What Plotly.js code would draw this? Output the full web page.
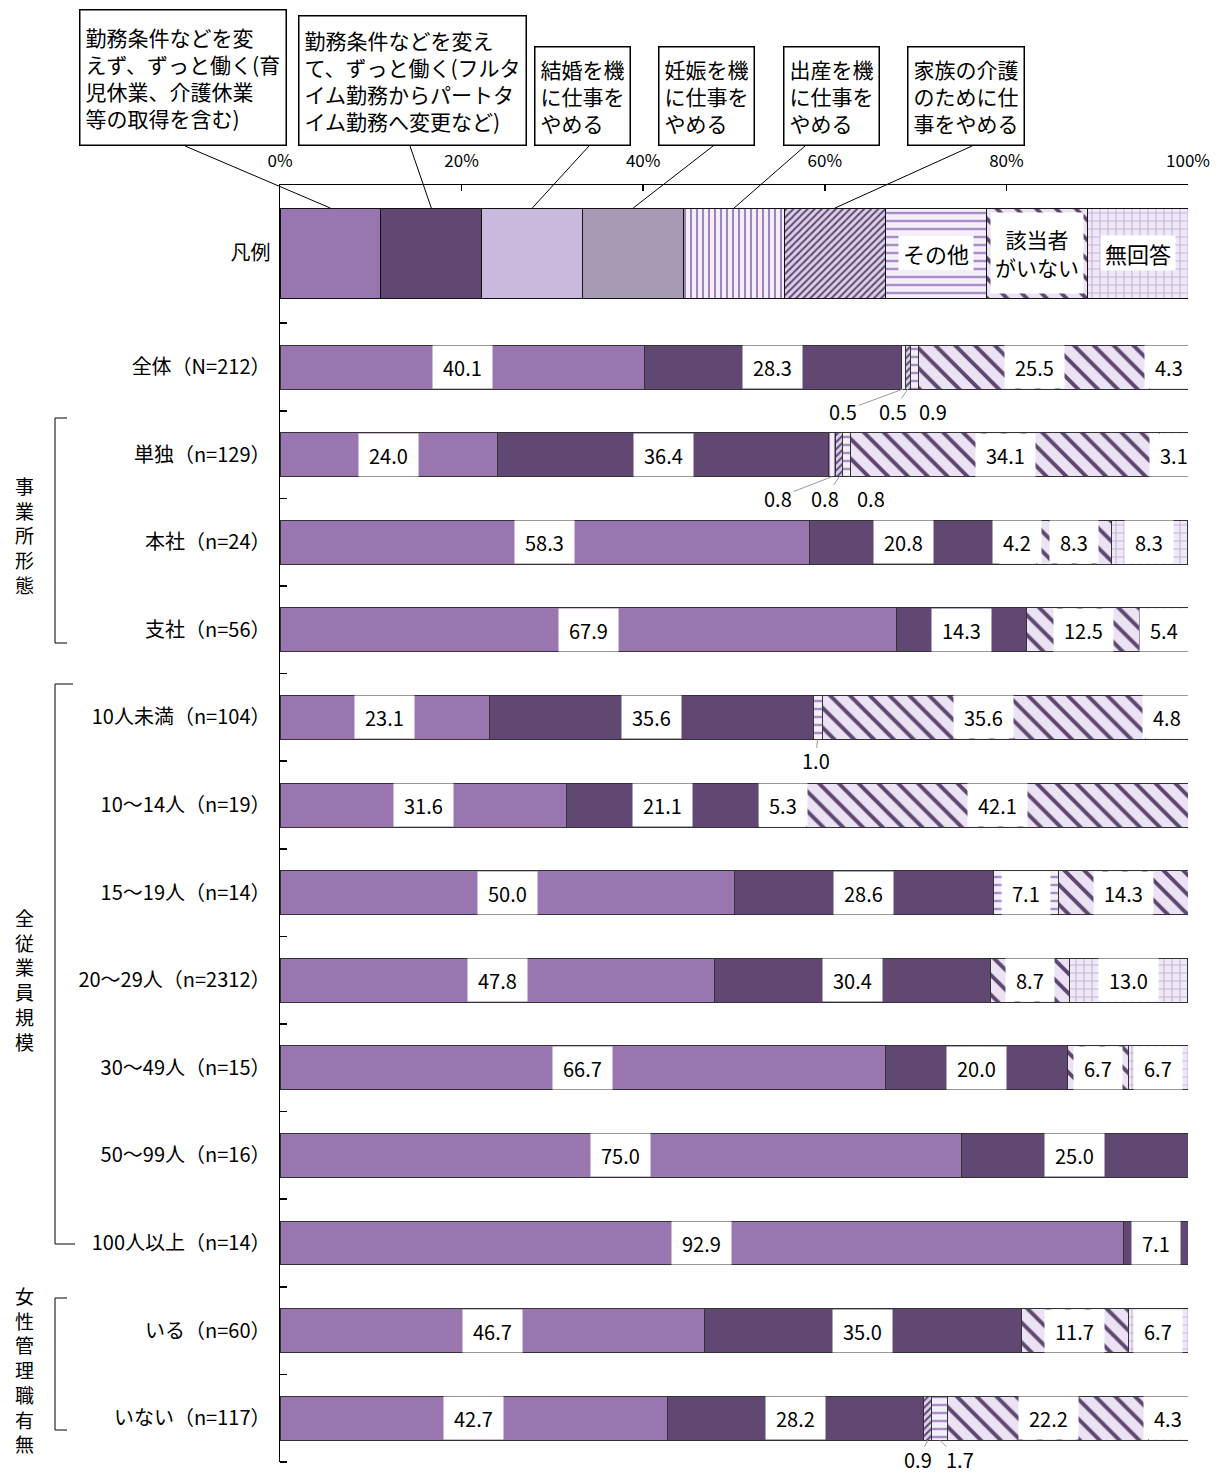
<!DOCTYPE html>
<html>
<head>
<meta charset="utf-8">
<script src="https://cdn.plot.ly/plotly-3.0.1.min.js"></script>
<style>
  html, body { margin: 0; padding: 0; background: #ffffff; }
  #chart { width: 1223px; height: 1474px; }
</style>
</head>
<body>
<div id="chart"></div>
<script>
// ---- data -------------------------------------------------------------
const rowLabels = [
  '全体（N=212）', '単独（n=129）', '本社（n=24）', '支社（n=56）',
  '10人未満（n=104）', '10～14人（n=19）', '15～19人（n=14）', '20～29人（n=2312）',
  '30～49人（n=15）', '50～99人（n=16）', '100人以上（n=14）',
  'いる（n=60）', 'いない（n=117）'
];

const categoryNames = [
  '勤務条件などを変えず、ずっと働く(育児休業、介護休業等の取得を含む)',
  '勤務条件などを変えて、ずっと働く(フルタイム勤務からパートタイム勤務へ変更など)',
  '結婚を機に仕事をやめる',
  '妊娠を機に仕事をやめる',
  '出産を機に仕事をやめる',
  '家族の介護のために仕事をやめる',
  'その他',
  '該当者がいない',
  '無回答'
];

// wrapped texts for the callout boxes above the key bar
const calloutTexts = [
  '勤務条件などを変<br>えず、ずっと働く(育<br>児休業、介護休業<br>等の取得を含む)',
  '勤務条件などを変え<br>て、ずっと働く(フルタ<br>イム勤務からパートタ<br>イム勤務へ変更など)',
  '結婚を機<br>に仕事を<br>やめる',
  '妊娠を機<br>に仕事を<br>やめる',
  '出産を機<br>に仕事を<br>やめる',
  '家族の介護<br>のために仕<br>事をやめる'
];
// labels written inside the last three key segments
const keyInlineTexts = ['その他', '該当者<br>がいない', '無回答'];

const keepSame      = [40.1, 24.0, 58.3, 67.9, 23.1, 31.6, 50.0, 47.8, 66.7, 75.0, 92.9, 46.7, 42.7];
const changeTerms   = [28.3, 36.4, 20.8, 14.3, 35.6, 21.1, 28.6, 30.4, 20.0, 25.0,  7.1, 35.0, 28.2];
const quitMarriage  = [ 0,    0,    0,    0,    0,    0,    0,    0,    0,    0,    0,    0,    0  ];
const quitPregnancy = [ 0,    0,    0,    0,    0,    0,    0,    0,    0,    0,    0,    0,    0  ];
const quitBirth     = [ 0.5,  0.8,  0,    0,    0,    0,    0,    0,    0,    0,    0,    0,    0  ];
const quitCare      = [ 0.5,  0.8,  0,    0,    0,    0,    0,    0,    0,    0,    0,    0,    0.9];
const otherReason   = [ 0.9,  0.8,  4.2,  0,    1.0,  5.3,  7.1,  0,    0,    0,    0,    0,    1.7];
const notApplicable = [25.5, 34.1,  8.3, 12.5, 35.6, 42.1, 14.3,  8.7,  6.7,  0,    0,   11.7, 22.2];
const noAnswer      = [ 4.3,  3.1,  8.3,  5.4,  4.8,  0,    0,   13.0,  6.7,  0,    0,    6.7,  4.3];

const series = [keepSame, changeTerms, quitMarriage, quitPregnancy, quitBirth,
                quitCare, otherReason, notApplicable, noAnswer];

// row groups drawn with a bracket on the far left
const groups = [
  { name: '事業所形態',     top: 418, bottom: 643,  tickTop: 12, tickBottom: 12, textMid: 535 },
  { name: '全従業員規模',   top: 684, bottom: 1244, tickTop: 18, tickBottom: 20, textMid: 979 },
  { name: '女性管理職有無', top: 1298, bottom: 1430, tickTop: 12, tickBottom: 12, textMid: 1369 }
];

// ---- styles -----------------------------------------------------------
const FONT = 'Noto Sans CJK JP, Noto Sans, sans-serif';
const W = 1223, H = 1474;
const M = { l: 280, r: 35, t: 185, b: 12 };
const PLOT_W = W - M.l - M.r, PLOT_H = H - M.t - M.b;
const Y_TOP = -2.078, Y_BOTTOM = 12.5;
const KEY_Y = -1.301, KEY_H = 1.027, DATA_H = 0.502;
const KEY_SEG = 100 / categoryNames.length;

const styles = [
  { color: '#9a76b0' },
  { color: '#614872' },
  { color: '#c9b9dc' },
  { color: '#a79ab5' },
  { color: '#f4f0f9', pattern: { shape: '|',  fgcolor: '#a184bd', bgcolor: '#f5f1fa', size: 6,  solidity: 0.35, fillmode: 'replace' } },
  { color: '#dcd0e8', pattern: { shape: '/',  fgcolor: '#5e4670', bgcolor: '#dcd0e8', size: 5,  solidity: 0.4,  fillmode: 'replace' } },
  { color: '#f1ebf7', pattern: { shape: '-',  fgcolor: '#a98cc4', bgcolor: '#f3eef8', size: 8,  solidity: 0.3,  fillmode: 'replace' } },
  { color: '#ebe3f3', pattern: { shape: '\\', fgcolor: '#5e4670', bgcolor: '#ebe3f3', size: 14, solidity: 0.28, fillmode: 'replace' } },
  { color: '#eee8f5', pattern: { shape: '+',  fgcolor: '#c6b4dc', bgcolor: '#efe9f6', size: 8,  solidity: 0.25, fillmode: 'replace' } }
];

// offsets (px) of the value labels for slim segments, keyed row-category
const slimLabelOffsets = {
  '0-4': [-60, 22], '0-5': [-15, 22], '0-6': [19, 22],
  '1-4': [-54, 21], '1-5': [-14, 21], '1-6': [24, 21],
  '4-6': [-2, 21],
  '12-5': [-10, 19], '12-6': [20, 19]
};

// pixel -> paper helpers for decorations outside the plot area
const px = x => (x - M.l) / PLOT_W;
const py = y => (H - M.b - y) / PLOT_H;
const yToPaper = v => (Y_BOTTOM - v) / (Y_BOTTOM - Y_TOP);

// ---- traces -----------------------------------------------------------
const rowIdx = rowLabels.map((_, i) => i);
const traces = series.map((vals, c) => ({
  type: 'bar',
  orientation: 'h',
  name: categoryNames[c],
  x: [KEY_SEG].concat(vals.map(v => (v > 0 ? v : null))),
  y: [KEY_Y].concat(rowIdx),
  width: [KEY_H].concat(rowIdx.map(() => DATA_H)),
  marker: Object.assign({ color: styles[c].color,
    line: { color: [ '#111111' ].concat(rowIdx.map(() => '#333333')), width: 1 } },
    styles[c].pattern ? { pattern: styles[c].pattern } : {}),
  hoverinfo: 'skip',
  showlegend: false
}));

// ---- annotations ------------------------------------------------------
const annotations = [];

// value labels
rowLabels.forEach((_, r) => {
  let cum = 0;
  series.forEach((vals, c) => {
    const v = vals[r];
    if (v > 0) {
      const mid = cum + v / 2;
      if (v >= 2) {
        annotations.push({
          x: mid, y: r, xref: 'x', yref: 'y', text: v.toFixed(1), showarrow: false,
          xanchor: 'center', yanchor: 'middle',
          font: { family: FONT, size: 20, color: '#000' },
          bgcolor: '#ffffff', borderpad: 10, height: 22
        });
      } else {
        const off = slimLabelOffsets[r + '-' + c] || [0, 22];
        annotations.push({
          x: mid, y: r + DATA_H / 2, xref: 'x', yref: 'y', text: v.toFixed(1),
          showarrow: true, arrowhead: 0, arrowwidth: 1, arrowcolor: '#9a9a9a',
          standoff: 0, ax: off[0], ay: off[1], height: 22,
          font: { family: FONT, size: 20, color: '#000' }
        });
      }
      cum += v;
    }
  });
});

// labels inside the last three key segments
const inlineBoxes = [
  { h: 26, pad: 4, size: 22 },
  { h: 72, pad: 4, size: 21 },
  { h: 26, pad: 4, size: 22 }
];
keyInlineTexts.forEach((t, i) => {
  const seg = 6 + i;
  annotations.push({
    x: (seg + 0.5) * KEY_SEG, y: KEY_Y, xref: 'x', yref: 'y', text: t, showarrow: false,
    xanchor: 'center', yanchor: 'middle',
    font: { family: FONT, size: inlineBoxes[i].size, color: '#000' },
    bgcolor: '#ffffff', borderpad: inlineBoxes[i].pad, height: inlineBoxes[i].h
  });
});

// callout boxes for the first six categories
const calloutBoxes = [
  { left: 79, top: 9, h: 137 },
  { left: 298, top: 15, h: 131 },
  { left: 534, top: 46, h: 100 },
  { left: 658, top: 46, h: 100 },
  { left: 783, top: 46, h: 100 },
  { left: 907, top: 46, h: 100 }
];
const calloutAnchors = [185, 410, 589, 713, 805, 972];
calloutTexts.forEach((t, i) => {
  const b = calloutBoxes[i];
  annotations.push({
    x: px(b.left), y: py(b.top), xref: 'paper', yref: 'paper',
    xanchor: 'left', yanchor: 'top', text: t, showarrow: false, align: 'left', valign: 'middle',
    font: { family: FONT, size: 21, color: '#000' },
    bgcolor: '#ffffff', bordercolor: '#000000', borderwidth: 1.5, borderpad: 5,
    height: b.h - 2 * 6.5
  });
});

// vertical group names, one character per line
groups.forEach(g => {
  annotations.push({
    x: px(25), y: py(g.textMid), xref: 'paper', yref: 'paper',
    xanchor: 'center', yanchor: 'middle', align: 'center',
    text: Array.from(g.name).join('<br>'), showarrow: false,
    font: { family: FONT, size: 19, color: '#000' }
  });
});

// ---- shapes -----------------------------------------------------------
const shapes = [];
const keyTop = yToPaper(KEY_Y - KEY_H / 2);
calloutAnchors.forEach((ax, i) => {
  shapes.push({
    type: 'line', xref: 'paper', yref: 'paper',
    x0: px(ax), y0: py(146), x1: (i + 0.5) * KEY_SEG / 100, y1: keyTop,
    line: { color: '#000000', width: 1 }
  });
});
groups.forEach(g => {
  const xb = px(55);
  shapes.push({ type: 'line', xref: 'paper', yref: 'paper', x0: xb, x1: xb, y0: py(g.top), y1: py(g.bottom), line: { color: '#000', width: 1 } });
  shapes.push({ type: 'line', xref: 'paper', yref: 'paper', x0: xb, x1: px(55 + g.tickTop), y0: py(g.top), y1: py(g.top), line: { color: '#000', width: 1 } });
  shapes.push({ type: 'line', xref: 'paper', yref: 'paper', x0: xb, x1: px(55 + g.tickBottom), y0: py(g.bottom), y1: py(g.bottom), line: { color: '#000', width: 1 } });
});

// ---- layout -----------------------------------------------------------
const boundaries = [];
for (let k = -0.5; k <= Y_BOTTOM; k += 1) boundaries.push(k);

const layout = {
  width: W, height: H,
  margin: M,
  barmode: 'stack',
  bargap: 0,
  paper_bgcolor: '#ffffff',
  plot_bgcolor: '#ffffff',
  font: { family: FONT, color: '#000' },
  showlegend: false,
  xaxis: {
    side: 'top', range: [0, 100],
    tickmode: 'array', tickvals: [0, 20, 40, 60, 80, 100],
    ticktext: ['0%', '20%', '40%', '60%', '80%', '100%'],
    ticks: 'inside', ticklen: 6, tickwidth: 1.5, tickcolor: '#000',
    showline: true, linecolor: '#000', linewidth: 1.5,
    showgrid: false, zeroline: false, fixedrange: true,
    tickfont: { family: FONT, size: 17, color: '#000' },
    ticklabelstandoff: 10
  },
  yaxis: {
    range: [Y_BOTTOM, Y_TOP],
    tickmode: 'array', tickvals: [KEY_Y].concat(rowIdx), ticktext: ['凡例'].concat(rowLabels),
    ticks: '', showline: true, linecolor: '#000', linewidth: 1.5,
    showgrid: false, zeroline: false, fixedrange: true,
    tickfont: { family: FONT, size: 20, color: '#000' },
    ticklabelstandoff: 4,
    minor: { tickmode: 'array', tickvals: boundaries, ticks: 'inside', ticklen: 7, tickwidth: 1.5, tickcolor: '#000', showgrid: false }
  },
  annotations: annotations,
  shapes: shapes
};

Plotly.newPlot('chart', traces, layout, { displayModeBar: false, staticPlot: true });
</script>
</body>
</html>
